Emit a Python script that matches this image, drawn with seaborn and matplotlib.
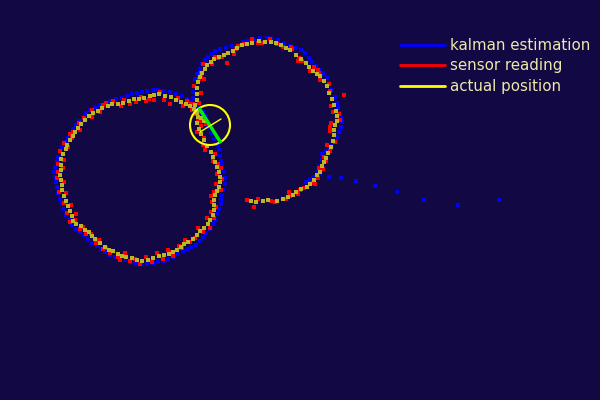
import matplotlib
matplotlib.use("Agg")
import matplotlib.pyplot as plt
from matplotlib.lines import Line2D
from matplotlib.patches import Circle
import seaborn as sns
import pandas as pd

# ---------------- data (pixel-space coordinates, y grows downward) ----------------
actual_x = [251,256,263,268,277,283,288,293,296,301,
            307,310,314,317,320,322,324,326,328,331,
            333,334,334,335,337,337,336,334,332,329,
            327,324,320,317,313,309,306,301,296,290,
            286,281,276,271,265,259,252,247,242,237,
            233,228,224,219,214,211,207,205,202,200,
            198,197,197,197,195,197,198,197,199,201,
            204,207,211,213,215,217,219,220,220,219,
            217,215,214,214,214,213,210,208,204,200,
            197,193,188,184,181,177,173,169,164,159,
            153,148,142,137,132,126,122,118,113,109,
            105,100,95,92,89,85,81,76,73,72,
            70,68,66,64,62,62,61,60,61,61,
            61,63,66,67,70,73,75,78,81,85,
            89,93,98,102,108,112,118,123,129,134,
            139,144,150,154,159,165,171,176,181,186,
            190,194,197,201,204]
actual_y = [201,202,201,200,201,199,197,195,192,189,
            187,184,180,175,172,166,162,158,153,147,
            141,135,130,125,121,116,111,105,99,93,
            86,81,76,74,71,67,63,59,55,50,
            48,45,43,42,42,41,43,44,45,48,
            51,53,55,57,59,62,65,69,73,77,
            82,88,94,100,105,111,117,123,129,134,
            140,146,152,157,162,167,172,177,182,187,
            191,195,200,205,210,215,220,224,228,231,
            235,239,242,244,247,250,252,254,255,256,
            258,260,261,260,258,257,256,254,251,250,
            247,243,239,236,232,230,226,224,221,216,
            211,206,201,196,190,185,180,175,170,165,
            159,154,149,145,140,136,132,128,124,120,
            116,113,111,108,106,104,104,103,101,99,
            99,98,96,95,94,96,97,100,102,104,
            106,109,113,118,121]

sensor_x = [247,254,258,271,275,286,289,290,300,298,
            304,313,315,318,323,319,326,324,330,327,
            335,330,330,331,340,339,333,331,344,330,
            329,320,319,318,310,314,302,298,299,292,
            291,283,277,270,262,258,252,244,238,236,
            234,227,222,218,215,212,203,201,201,204,
            199,194,201,199,191,195,200,201,197,204,
            203,205,215,213,218,221,217,222,216,221,
            214,211,212,216,211,214,207,210,203,198,
            195,190,185,182,179,172,173,168,163,157,
            152,146,140,135,130,125,120,118,110,106,
            103,99,96,91,86,83,80,75,70,76,
            67,71,64,66,59,64,57,58,63,58,
            64,60,68,64,72,70,73,80,79,84,
            92,92,100,103,106,113,121,124,130,136,
            141,146,149,154,160,164,170,178,183,187,
            192,193,200,198,206]
sensor_y = [200,207,199,201,202,199,192,196,190,194,
            188,183,184,178,169,168,161,157,151,145,
            142,131,127,123,120,114,112,106,95,91,
            84,80,73,70,71,67,61,61,58,49,
            47,47,44,39,43,43,39,44,46,49,
            54,63,57,58,57,64,64,73,76,79,
            79,86,93,103,104,114,121,126,132,138,
            145,150,154,161,164,168,174,179,184,190,
            192,196,202,207,212,218,218,228,232,228,
            238,242,240,248,246,252,256,250,259,253,
            262,257,264,259,261,253,260,257,253,248,
            249,240,243,234,234,227,229,220,222,214,
            213,205,203,193,192,182,178,172,168,164,
            160,151,147,143,138,134,132,130,123,118,
            117,110,112,105,103,101,106,100,104,102,
            97,101,99,100,92,100,104,98,106,101,
            110,104,112,120,124]

kalman_x = [499,458,424,397,375,356,341,329,320,310,
            306,313,317,319,322,322,326,329,332,335,
            337,339,341,342,341,340,338,337,335,332,
            329,327,323,320,316,312,309,305,301,295,
            290,284,278,272,267,260,254,248,243,238,
            232,226,220,215,212,208,205,202,200,197,
            195,193,193,193,192,197,201,205,208,211,
            214,218,219,220,221,222,224,225,225,223,
            222,221,221,219,217,215,213,210,206,203,
            200,196,191,187,183,178,173,168,163,158,
            153,147,141,136,130,125,120,115,110,105,
            101,97,92,88,84,80,76,72,69,66,
            63,62,60,58,57,56,55,54,55,57,
            58,60,62,65,68,70,73,76,79,83,
            86,90,95,100,105,110,116,122,127,132,
            137,142,147,153,158,164,170,176,182,187,
            191,195,199,203,206]
kalman_y = [200,205,200,192,186,181,178,177,174,180,
            182,177,172,166,160,154,151,148,146,142,
            137,132,127,122,118,113,108,103,97,90,
            83,78,73,70,66,62,58,53,50,48,
            46,43,40,39,38,38,40,41,42,45,
            46,48,49,51,54,57,60,64,69,74,
            79,86,92,98,103,108,114,120,127,133,
            139,145,150,156,161,166,172,178,184,190,
            195,199,204,209,214,219,224,229,233,237,
            241,245,247,249,251,254,257,259,261,262,
            263,264,264,263,262,260,259,257,255,252,
            249,246,243,239,235,232,229,225,220,215,
            209,204,199,193,187,182,177,172,167,162,
            157,152,147,142,138,134,129,125,121,117,
            113,110,107,105,103,101,99,98,96,94,
            93,92,91,90,90,91,92,94,96,99,
            102,105,108,112,116]

series_labels = ["kalman estimation", "sensor reading", "actual position"]

# robot marker (current position)
robot_center = [210, 125]
robot_radius = [20]
heading_x = [199, 221]
heading_y = [108, 143]
axle_x = [200, 221]
axle_y = [132, 119]

# ---------------- style ----------------
BG = "#120844"
TXT = "#eee8aa"
sns.set_style("white")

fig = plt.figure(figsize=(6, 4), dpi=100, facecolor=BG)
ax = fig.add_axes([0, 0, 1, 1])
ax.set_facecolor(BG)

kal = pd.DataFrame({"x": kalman_x, "y": kalman_y})
sen = pd.DataFrame({"x": sensor_x, "y": sensor_y})
act = pd.DataFrame({"x": actual_x, "y": actual_y})

sns.scatterplot(data=kal, x="x", y="y", color="#0000ff", marker="s", s=5,
                linewidth=0, ax=ax, legend=False)
sns.scatterplot(data=sen, x="x", y="y", color="#ff0000", marker="s", s=5,
                linewidth=0, ax=ax, legend=False)
sns.scatterplot(data=act, x="x", y="y", color="#bcb622", marker="s", s=5,
                linewidth=0, ax=ax, legend=False)

ax.add_patch(Circle((robot_center[0], robot_center[1]), robot_radius[0],
                    fill=False, edgecolor="#ffff00", linewidth=1.5, zorder=5))
ax.plot(heading_x, heading_y, color="#00ee00", linewidth=2.5, zorder=6,
        solid_capstyle="butt")
ax.plot(axle_x, axle_y, color="#ffff00", linewidth=1.0, zorder=7)

ax.set_xlim(0, 600)
ax.set_ylim(400, 0)
ax.axis("off")

handles = [Line2D([0], [0], color=c, linewidth=2)
           for c in ["#0000ff", "#ff0000", "#ffff00"]]
leg = ax.legend(handles, series_labels, loc="upper left",
                bbox_to_anchor=(400 / 600, 1 - 38 / 400), frameon=False,
                fontsize=10.8, labelcolor=TXT, handlelength=3.0,
                handletextpad=0.3, labelspacing=0.36, borderpad=0,
                borderaxespad=0)

fig.savefig("out.png", dpi=100, facecolor=BG)
